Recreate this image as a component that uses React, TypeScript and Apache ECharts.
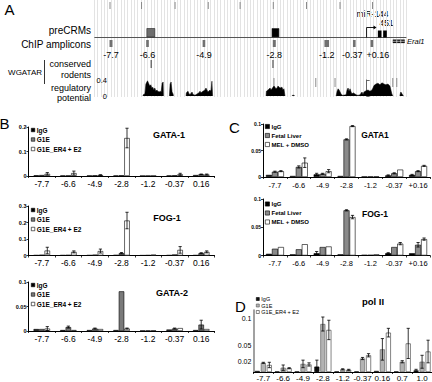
import React, { useEffect, useRef } from "react";
import * as echarts from "echarts";

const FONT = "'Liberation Sans', Arial, Helvetica, sans-serif";

// ---------- Panel A: genome track (kb relative to the miR-144/451 TSS) ----------
const rulerKb = [-7.73, -6.78, -5.77, -4.77, -3.81, -2.81, -1.81, -0.8, 0.18];
const preCrmStart = [-6.62, -2.85];
const preCrmEnd = [-6.38, -2.64];
const preCrmShade = ["#6e6e6e", "#000000"];
const ampliconLabels = ["-7.7", "-6.6", "-4.9", "-2.8", "-1.2", "-0.37", "+0.16"];
const ampliconKb = [-7.7, -6.6, -4.9, -2.78, -1.2, -0.37, 0.16];
const ampliconWidthKb = [0.09, 0.08, 0.08, 0.09, 0.14, 0.08, 0.08];
const ampliconLabelShift = [0, 0, 0, 0, 0, -2, 6];
const mirTssKb = 0.0;
const mirArrowEndKb = 0.3;
const mirExonStart = [0.34, 0.5];
const mirExonEnd = [0.45, 0.61];
const eral1Kb = [0.79, 1.15];
const wgatarConservedKb = [-6.49, -2.82];
const wgatarRodentKb = [-2.79, -1.53, -0.95, 0.79, 0.91];
const regPotentialSegments: number[][][] = [
  [[-6.74, 0], [-6.72, 0.04], [-6.68, 0.05], [-6.65, 0.3], [-6.6, 0.38], [-6.56, 0.3], [-6.53, 0.25], [-6.5, 0.28], [-6.47, 0.2], [-6.44, 0.22], [-6.41, 0.15], [-6.38, 0.2], [-6.35, 0.12], [-6.32, 0.15], [-6.29, 0.12], [-6.25, 0.1], [-6.22, 0.12], [-6.19, 0.1], [-6.16, 0.32], [-6.13, 0.35], [-6.12, 0]],
  [[-5.94, 0], [-5.92, 0.3], [-5.89, 0.35], [-5.86, 0.1], [-5.83, 0.05], [-5.82, 0]],
  [[-5.44, 0], [-5.43, 0.08], [-5.38, 0.12], [-5.35, 0.05], [-5.32, 0.04], [-5.29, 0.06], [-5.26, 0.1], [-5.23, 0.04], [-5.17, 0.02], [-5.11, 0.05], [-5.05, 0.08], [-5.02, 0.12], [-4.99, 0.08], [-4.93, 0.12], [-4.87, 0.15], [-4.84, 0.2], [-4.81, 0.15], [-4.78, 0.1], [-4.72, 0.15], [-4.69, 0.12], [-4.66, 0.37], [-4.64, 0]],
  [[-3.03, 0], [-3.02, 0.12], [-2.97, 0.15], [-2.91, 0.2], [-2.88, 0.15], [-2.82, 0.22], [-2.79, 0.25], [-2.73, 0.18], [-2.7, 0.2], [-2.67, 0.25], [-2.61, 0.2], [-2.55, 0.22], [-2.52, 0.15], [-2.49, 0.18], [-2.46, 0]],
  [[-2.25, 0], [-2.23, 0.02], [-2.19, 0.02], [-2.17, 0]],
  [[-0.92, 0], [-0.89, 0.12], [-0.86, 0.18], [-0.83, 0.15], [-0.8, 0.1], [-0.77, 0.05], [-0.74, 0.02], [-0.71, 0.02], [-0.62, 0.03], [-0.59, 0.15], [-0.56, 0.2], [-0.53, 0.12], [-0.5, 0.18], [-0.47, 0.1], [-0.44, 0.05], [-0.41, 0.08], [-0.35, 0.05], [-0.29, 0.02], [-0.23, 0.02], [-0.2, 0.03], [-0.14, 0.1], [-0.11, 0.04], [-0.08, 0.1], [-0.02, 0.13], [0.04, 0.15], [0.1, 0.12], [0.16, 0.15], [0.19, 0.2], [0.22, 0.26], [0.28, 0.3], [0.34, 0.32], [0.4, 0.28], [0.46, 0.33], [0.52, 0.3], [0.58, 0.28], [0.64, 0.3], [0.7, 0.25], [0.73, 0.15], [0.76, 0.05], [0.79, 0]],
  [[1.0, 0], [1.01, 0.05], [1.03, 0.1], [1.06, 0.06], [1.09, 0.02], [1.11, 0]],
];

// ---------- Panel B: G1E ChIP ----------
const bCats = ["-7.7", "-6.6", "-4.9", "-2.8", "-1.2", "-0.37", "0.16"];
const bNames = ["IgG", "G1E", "G1E_ER4 + E2"];
const bGata1IgG = [0.003, 0.002, 0.002, 0.002, 0.001, 0.002, 0.004];
const bGata1G1E = [0.004, 0.002, 0.003, 0.003, 0.001, 0.003, 0.007];
const bGata1ER4 = [0.009, 0.012, 0.004, 0.155, 0.001, 0.007, 0.006];
const bGata1IgGErr = [0, 0, 0, 0, 0, 0, 0];
const bGata1G1EErr = [0, 0, 0, 0, 0, 0, 0.001];
const bGata1ER4Err = [0.005, 0.008, 0.001, 0.04, 0, 0.004, 0.002];
const bFog1IgG = [0.002, 0.002, 0.002, 0.003, 0.001, 0.002, 0.002];
const bFog1G1E = [0.004, 0.003, 0.005, 0.014, 0.002, 0.006, 0.014];
const bFog1ER4 = [0.03, 0.022, 0.027, 0.212, 0.005, 0.034, 0.022];
const bFog1IgGErr = [0, 0, 0, 0, 0, 0, 0];
const bFog1G1EErr = [0, 0, 0, 0.004, 0, 0, 0.003];
const bFog1ER4Err = [0.02, 0.006, 0.012, 0.05, 0, 0.02, 0.006];
const bGata2IgG = [0.004, 0.002, 0.002, 0.002, 0.001, 0.003, 0.002];
const bGata2G1E = [0.004, 0.008, 0.005, 0.081, 0.001, 0.005, 0.013];
const bGata2ER4 = [0.005, 0.002, 0.004, 0.005, 0.001, 0.006, 0.004];
const bGata2IgGErr = [0, 0, 0, 0, 0, 0, 0];
const bGata2G1EErr = [0, 0.002, 0.001, 0, 0, 0.001, 0.009];
const bGata2ER4Err = [0.004, 0, 0, 0.001, 0, 0, 0];

// ---------- Panel C: primary cells ----------
const cCats = ["-7.7", "-6.6", "-4.9", "-2.8", "-1.2", "-0.37", "+0.16"];
const cNames = ["IgG", "Fetal Liver", "MEL + DMSO"];
const cGata1IgG = [0.004, 0.002, 0.005, 0.002, 0.001, 0.003, 0.004];
const cGata1FL = [0.01, 0.019, 0.006, 0.071, 0.001, 0.007, 0.011];
const cGata1MEL = [0.011, 0.027, 0.011, 0.096, 0.001, 0.014, 0.021];
const cGata1IgGErr = [0, 0, 0.002, 0, 0, 0.001, 0.001];
const cGata1FLErr = [0.001, 0.002, 0.001, 0.001, 0, 0.001, 0.001];
const cGata1MELErr = [0.001, 0.009, 0.003, 0.001, 0, 0, 0.001];
const cFog1IgG = [0.003, 0.002, 0.004, 0.002, 0.001, 0.004, 0.004];
const cFog1FL = [0.012, 0.011, 0.015, 0.08, 0.001, 0.015, 0.019];
const cFog1MEL = [0.015, 0.02, 0.016, 0.068, 0.002, 0.021, 0.029];
const cFog1IgGErr = [0, 0, 0.003, 0, 0, 0.001, 0];
const cFog1FLErr = [0, 0, 0, 0.001, 0, 0, 0.004];
const cFog1MELErr = [0, 0, 0, 0.003, 0, 0.002, 0.002];

// ---------- Panel D: pol II ----------
const dCats = ["-7.7", "-6.6", "-4.9", "-2.8", "-1.2", "-0.37", "0.16", "0.7", "1.0"];
const dIgG = [0.002, 0.001, 0.001, 0.01, 0.001, 0.001, 0.002, 0.001, 0.003];
const dG1E = [0.017, 0.008, 0.015, 0.089, 0.005, 0.025, 0.042, 0.019, 0.019];
const dER4 = [0.013, 0.007, 0.014, 0.078, 0.004, 0.031, 0.073, 0.053, 0.038];
const dIgGErr = [0, 0, 0, 0.012, 0, 0, 0, 0, 0.002];
const dG1EErr = [0.001, 0.005, 0.007, 0.013, 0.001, 0.002, 0.02, 0.002, 0.012];
const dER4Err = [0.005, 0.001, 0.003, 0.018, 0.001, 0.003, 0.008, 0.028, 0.021];
const dTickValues = [0.02, 0.05, 0.1];

function errorBars(gi: number, values: number[][], errors: number[][], barW: number, gapPx: number) {
  const data: number[][] = [];
  values.forEach((vals, k) =>
    vals.forEach((v, i) => {
      const e = errors[k][i];
      if (e > 0) data.push([i, v, e, k]);
    })
  );
  const n = values.length;
  return {
    type: "custom",
    xAxisIndex: gi,
    yAxisIndex: gi,
    data,
    encode: { x: 0, y: 1 },
    silent: true,
    z: 5,
    renderItem: (_params: any, api: any) => {
      const i = api.value(0);
      const v = api.value(1);
      const e = api.value(2);
      const k = api.value(3);
      const off = (k - (n - 1) / 2) * (barW + gapPx);
      const pTop = api.coord([i, v + e]);
      const pBot = api.coord([i, Math.max(0, v - e)]);
      const x = pTop[0] + off;
      const st = { stroke: "#000", lineWidth: 0.8 };
      return {
        type: "group",
        children: [
          { type: "line", shape: { x1: x, y1: pTop[1], x2: x, y2: pBot[1] }, style: st },
          { type: "line", shape: { x1: x - 1.6, y1: pTop[1], x2: x + 1.6, y2: pTop[1] }, style: st },
          { type: "line", shape: { x1: x - 1.6, y1: pBot[1], x2: x + 1.6, y2: pBot[1] }, style: st },
        ],
      };
    },
  };
}

function buildOption() {
  const grids: any[] = [];
  const xAxes: any[] = [];
  const yAxes: any[] = [];
  const series: any[] = [];
  const legends: any[] = [];
  const graphics: any[] = [];

  const txt = (text: string, x: number, y: number, o: any = {}) =>
    graphics.push({
      type: "text",
      x,
      y,
      silent: true,
      style: {
        text,
        fill: "#000",
        fontFamily: FONT,
        fontSize: o.size || 9,
        fontWeight: o.bold ? "bold" : "normal",
        fontStyle: o.italic ? "italic" : "normal",
        align: o.align || "center",
        verticalAlign: "middle",
      },
    });

  // ----- Panel A main grid (0)
  grids.push({ left: 94.4, top: 0, width: 312, height: 97, outerBoundsMode: "none" });
  xAxes.push({
    gridIndex: 0, type: "value", min: -8.2, max: 1.2, interval: 0.1,
    axisLine: { show: false }, axisTick: { show: false }, axisLabel: { show: false },
    splitLine: { show: true, lineStyle: { color: "#e3e3e3", width: 1 } },
  });
  yAxes.push({ gridIndex: 0, type: "value", min: 0, max: 1, show: false, splitLine: { show: false } });

  const trackY = (p: any) => p.coordSys.y;
  series.push({
    type: "custom", xAxisIndex: 0, yAxisIndex: 0, silent: true, encode: { x: 0, y: 1 },
    data: rulerKb.map((k) => [k, 0]),
    renderItem: (p: any, api: any) => {
      const x = api.coord([api.value(0), 0])[0];
      const y0 = trackY(p);
      return { type: "line", shape: { x1: x, y1: y0 + 2, x2: x, y2: y0 + 9 }, style: { stroke: "#8a8a8a", lineWidth: 1 } };
    },
  });
  // baseline
  series.push({
    type: "custom", xAxisIndex: 0, yAxisIndex: 0, silent: true, encode: { x: 0, y: 1 },
    data: [[0, 0]],
    renderItem: (p: any) => {
      const cs = p.coordSys;
      return { type: "line", shape: { x1: cs.x, y1: cs.y + 37.5, x2: cs.x + cs.width, y2: cs.y + 37.5 }, style: { stroke: "#555", lineWidth: 1 } };
    },
  });
  // preCRMs
  series.push({
    type: "custom", xAxisIndex: 0, yAxisIndex: 0, silent: true, encode: { x: 0, y: 1 },
    data: preCrmStart.map((s, i) => [s, 0, preCrmEnd[i], i]),
    renderItem: (p: any, api: any) => {
      const x1 = api.coord([api.value(0), 0])[0];
      const x2 = api.coord([api.value(2), 0])[0];
      const y0 = trackY(p);
      return { type: "rect", shape: { x: x1, y: y0 + 28.5, width: x2 - x1, height: 8.5 }, style: { fill: preCrmShade[api.value(3)], stroke: "#222", lineWidth: 0.6 } };
    },
  });
  // ChIP amplicons with labels
  series.push({
    type: "custom", xAxisIndex: 0, yAxisIndex: 0, silent: true, encode: { x: 0, y: 1 },
    data: ampliconKb.map((k, i) => [k, 0, ampliconWidthKb[i], i]),
    renderItem: (p: any, api: any) => {
      const k = api.value(0);
      const w = api.value(2);
      const idx = api.value(3);
      const x1 = api.coord([k - w / 2, 0])[0];
      const x2 = api.coord([k + w / 2, 0])[0];
      const y0 = trackY(p);
      return {
        type: "group",
        children: [
          { type: "rect", shape: { x: x1, y: y0 + 40, width: x2 - x1, height: 7 }, style: { fill: "#707070" } },
          { type: "text", style: { text: ampliconLabels[idx], x: (x1 + x2) / 2 + ampliconLabelShift[idx], y: y0 + 54.5, align: "center", verticalAlign: "middle", fontSize: 9, fontFamily: FONT, fill: "#000" } },
        ],
      };
    },
  });
  // miR-144/451 promoter arrow
  series.push({
    type: "custom", xAxisIndex: 0, yAxisIndex: 0, silent: true, encode: { x: 0, y: 1 },
    data: [[mirTssKb, 0, mirArrowEndKb]],
    renderItem: (p: any, api: any) => {
      const x1 = api.coord([api.value(0), 0])[0];
      const x2 = api.coord([api.value(2), 0])[0];
      const y0 = trackY(p);
      return {
        type: "group",
        children: [
          { type: "polyline", shape: { points: [[x1, y0 + 37.5], [x1, y0 + 27.5], [x2 - 2, y0 + 27.5]] }, style: { stroke: "#000", lineWidth: 0.9, fill: "none" } },
          { type: "polygon", shape: { points: [[x2 - 3, y0 + 25.5], [x2, y0 + 27.5], [x2 - 3, y0 + 29.5]] }, style: { fill: "#000" } },
        ],
      };
    },
  });
  // miR exons
  series.push({
    type: "custom", xAxisIndex: 0, yAxisIndex: 0, silent: true, encode: { x: 0, y: 1 },
    data: mirExonStart.map((s, i) => [s, 0, mirExonEnd[i]]),
    renderItem: (p: any, api: any) => {
      const x1 = api.coord([api.value(0), 0])[0];
      const x2 = api.coord([api.value(2), 0])[0];
      const y0 = trackY(p);
      return { type: "rect", shape: { x: x1, y: y0 + 30.5, width: x2 - x1, height: 7 }, style: { fill: "#000" } };
    },
  });
  // Eral1 gene
  series.push({
    type: "custom", xAxisIndex: 0, yAxisIndex: 0, silent: true, encode: { x: 0, y: 1 },
    data: [[eral1Kb[0], 0, eral1Kb[1]]],
    renderItem: (p: any, api: any) => {
      const x1 = api.coord([api.value(0), 0])[0];
      const x2 = api.coord([api.value(2), 0])[0];
      const y0 = trackY(p);
      const w = x2 - x1;
      return {
        type: "group",
        children: [
          { type: "rect", shape: { x: x1, y: y0 + 39.5, width: w, height: 3.6 }, style: { fill: "#111" } },
          { type: "line", shape: { x1, y1: y0 + 41.3, x2, y2: y0 + 41.3 }, style: { stroke: "#fff", lineWidth: 0.6 } },
          { type: "line", shape: { x1: x1 + w / 3, y1: y0 + 39.5, x2: x1 + w / 3, y2: y0 + 43.1 }, style: { stroke: "#fff", lineWidth: 0.6 } },
          { type: "line", shape: { x1: x1 + (2 * w) / 3, y1: y0 + 39.5, x2: x1 + (2 * w) / 3, y2: y0 + 43.1 }, style: { stroke: "#fff", lineWidth: 0.6 } },
        ],
      };
    },
  });
  // WGATAR
  series.push({
    type: "custom", xAxisIndex: 0, yAxisIndex: 0, silent: true, encode: { x: 0, y: 1 },
    data: wgatarConservedKb.map((k) => [k, 0]),
    renderItem: (p: any, api: any) => {
      const x = api.coord([api.value(0), 0])[0];
      const y0 = trackY(p);
      return { type: "line", shape: { x1: x, y1: y0 + 60, x2: x, y2: y0 + 68 }, style: { stroke: "#333", lineWidth: 1 } };
    },
  });
  series.push({
    type: "custom", xAxisIndex: 0, yAxisIndex: 0, silent: true, encode: { x: 0, y: 1 },
    data: wgatarRodentKb.map((k) => [k, 0]),
    renderItem: (p: any, api: any) => {
      const x = api.coord([api.value(0), 0])[0];
      const y0 = trackY(p);
      return { type: "line", shape: { x1: x, y1: y0 + 78, x2: x, y2: y0 + 87 }, style: { stroke: "#8a8a8a", lineWidth: 1 } };
    },
  });

  // ----- Regulatory potential grid (1)
  grids.push({ left: 111, top: 80, width: 295.5, height: 16, outerBoundsMode: "none" });
  xAxes.push({ gridIndex: 1, type: "value", min: -7.7, max: 1.2, show: false, splitLine: { show: false } });
  yAxes.push({
    gridIndex: 1, type: "value", min: 0, max: 0.4, interval: 0.4,
    axisLine: { show: true, lineStyle: { color: "#444", width: 0.8 } },
    axisTick: { show: true, inside: true, length: 3, lineStyle: { color: "#444", width: 0.8 } },
    axisLabel: { fontSize: 7.5, color: "#000", margin: 4, fontFamily: FONT },
    splitLine: { show: false },
  });
  regPotentialSegments.forEach((seg) =>
    series.push({
      type: "line", xAxisIndex: 1, yAxisIndex: 1, data: seg, symbol: "none", silent: true,
      lineStyle: { color: "#000", width: 0.5 }, areaStyle: { color: "#000", opacity: 1 },
    })
  );

  // ----- bar panels
  const addBarPanel = (cfg: any) => {
    const gi = grids.length;
    grids.push({ left: cfg.left, top: cfg.top, width: cfg.width, height: cfg.height, outerBoundsMode: "none" });
    xAxes.push({
      gridIndex: gi, type: "category", data: cfg.cats,
      axisLine: { show: true, lineStyle: { color: "#000", width: 1 } },
      axisTick: { show: true, length: 2, lineStyle: { color: "#000", width: 0.8 } },
      axisLabel: { interval: 0, fontSize: cfg.xFont, color: "#000", margin: cfg.xMargin, fontFamily: FONT },
      splitLine: { show: false },
    });
    const yLabel: any = { fontSize: cfg.yFont, fontWeight: cfg.yBold ? "bold" : "normal", color: "#000", margin: 2, fontFamily: FONT };
    const yAxis: any = {
      gridIndex: gi, type: "value", min: 0, max: cfg.max,
      axisLine: { show: true, lineStyle: { color: cfg.yColor || "#000", width: cfg.yWidth || 1 } },
      axisTick: { show: cfg.yTicks, length: 2, lineStyle: { color: "#000", width: 0.8 } },
      axisLabel: yLabel,
      splitLine: { show: false },
    };
    if (cfg.interval) yAxis.interval = cfg.interval;
    if (cfg.custom) {
      yLabel.customValues = cfg.custom;
      yAxis.axisTick.customValues = cfg.custom;
    }
    yAxes.push(yAxis);
    cfg.series.forEach((s: any) =>
      series.push({
        type: "bar", name: s.name, xAxisIndex: gi, yAxisIndex: gi, data: s.data, silent: true,
        barWidth: cfg.barW, barGap: `${(cfg.gap / cfg.barW) * 100}%`,
        itemStyle: { color: s.color, borderColor: s.border, borderWidth: 0.6 },
      })
    );
    series.push(errorBars(gi, cfg.series.map((s: any) => s.data), cfg.series.map((s: any) => s.err), cfg.barW, cfg.gap));
    legends.push({
      show: true, orient: "vertical", left: cfg.legLeft, top: cfg.legTop, padding: 0,
      itemWidth: cfg.legSize, itemHeight: cfg.legSize, itemGap: cfg.legGap, icon: "rect", selectedMode: false,
      data: cfg.series.map((s: any) => ({ name: s.name, itemStyle: { color: s.color, borderColor: s.border, borderWidth: 0.6 } })),
      textStyle: { fontSize: cfg.legFont, fontWeight: cfg.legBold ? "bold" : "normal", fontFamily: FONT, color: "#000", lineHeight: cfg.legFont, padding: [0, 0, 0, -3] },
    });
    txt(cfg.title, cfg.titleX, cfg.titleY, { size: cfg.titleSize, bold: true });
  };

  const bStyle = [
    { color: "#000", border: "#000" },
    { color: "#7a7a7a", border: "#000" },
    { color: "#fff", border: "#000" },
  ];
  const bCommon = {
    cats: bCats, left: 28.5, width: 186, barW: 5.5, gap: 0, xFont: 8.5, xMargin: 3, yFont: 5.5, yBold: true, yTicks: true,
    legLeft: 31, legSize: 3.5, legGap: 2.5, legFont: 6.5, legBold: true, titleSize: 9,
  };
  const mk = (names: string[], style: any[], data: number[][], err: number[][]) =>
    names.map((n, k) => ({ name: n, color: style[k].color, border: style[k].border, data: data[k], err: err[k] }));

  addBarPanel({ ...bCommon, top: 127, height: 49, max: 0.2, interval: 0.1, legTop: 126.5, title: "GATA-1", titleX: 169, titleY: 135,
    series: mk(bNames, bStyle, [bGata1IgG, bGata1G1E, bGata1ER4], [bGata1IgGErr, bGata1G1EErr, bGata1ER4Err]) });
  addBarPanel({ ...bCommon, top: 206, height: 49.5, max: 0.3, interval: 0.1, legTop: 206.5, title: "FOG-1", titleX: 167, titleY: 218,
    series: mk(bNames, bStyle, [bFog1IgG, bFog1G1E, bFog1ER4], [bFog1IgGErr, bFog1G1EErr, bFog1ER4Err]) });
  addBarPanel({ ...bCommon, top: 282, height: 49, max: 0.1, interval: 0.05, legTop: 281.5, title: "GATA-2", titleX: 172, titleY: 293,
    series: mk(bNames, bStyle, [bGata2IgG, bGata2G1E, bGata2ER4], [bGata2IgGErr, bGata2G1EErr, bGata2ER4Err]) });

  const cStyle = [
    { color: "#000", border: "#000" },
    { color: "#8a8a8a", border: "#000" },
    { color: "#fff", border: "#000" },
  ];
  const cCommon = {
    cats: cCats, left: 263, width: 167, barW: 6, gap: 0, xFont: 7.5, xMargin: 4, yFont: 5, yBold: true, yTicks: true,
    legLeft: 265, legSize: 4.2, legGap: 3, legFont: 6, legBold: true, titleSize: 8.5, max: 0.1, interval: 0.05,
  };
  addBarPanel({ ...cCommon, top: 124, height: 53, legTop: 123.5, title: "GATA1", titleX: 375, titleY: 135,
    series: mk(cNames, cStyle, [cGata1IgG, cGata1FL, cGata1MEL], [cGata1IgGErr, cGata1FLErr, cGata1MELErr]) });
  addBarPanel({ ...cCommon, top: 199, height: 56.5, legTop: 201, title: "FOG-1", titleX: 375, titleY: 214,
    series: mk(cNames, cStyle, [cFog1IgG, cFog1FL, cFog1MEL], [cFog1IgGErr, cFog1FLErr, cFog1MELErr]) });

  const dStyle = [
    { color: "#111", border: "#000" },
    { color: "#b3b3b3", border: "#555" },
    { color: "#fff", border: "#333" },
  ];
  addBarPanel({
    cats: dCats, left: 253.4, width: 178.6, top: 310, height: 62, max: 0.115, custom: dTickValues,
    barW: 5, gap: 1, xFont: 8, xMargin: 2, yFont: 7, yBold: false, yTicks: false, yColor: "#8a8a8a", yWidth: 1.6,
    legLeft: 256, legTop: 296, legSize: 3, legGap: 0.5, legFont: 5.5, legBold: false, titleSize: 9.5,
    title: "pol II", titleX: 373, titleY: 301,
    series: mk(bNames, dStyle, [dIgG, dG1E, dER4], [dIgGErr, dG1EErr, dER4Err]),
  });

  // ----- Panel A texts
  txt("preCRMs", 91, 30, { align: "right", size: 10 });
  txt("ChIP amplicons", 91, 44, { align: "right", size: 10 });
  txt("conserved", 91, 64, { align: "right", size: 9 });
  txt("rodents", 91, 75, { align: "right", size: 9 });
  txt("WGATAR", 42, 72, { align: "right", size: 8 });
  graphics.push({ type: "line", silent: true, shape: { x1: 44.5, y1: 60, x2: 44.5, y2: 84 }, style: { stroke: "#000", lineWidth: 0.8 } });
  txt("regulatory", 91, 88, { align: "right", size: 9 });
  txt("potential", 91, 97.5, { align: "right", size: 9 });
  txt("miR-144", 372.5, 13.5, { size: 8.5 });
  txt("451", 386.5, 22.5, { size: 8.5 });
  txt("Eral1", 407, 41.5, { align: "left", size: 7.5, italic: true });

  // panel letters
  txt("A", 9.5, 9, { size: 15 });
  txt("B", 4.5, 123.5, { size: 15 });
  txt("C", 234.5, 127.5, { size: 15 });
  txt("D", 240.5, 306, { size: 15 });

  return {
    animation: false,
    backgroundColor: "#fff",
    textStyle: { fontFamily: FONT },
    grid: grids,
    xAxis: xAxes,
    yAxis: yAxes,
    legend: legends,
    series,
    graphic: graphics,
  };
}

export default function App() {
  const ref = useRef<HTMLDivElement>(null);
  useEffect(() => {
    const chart = echarts.init(ref.current!, undefined, { renderer: "svg", width: 432, height: 382 });
    chart.setOption(buildOption() as any);
    return () => chart.dispose();
  }, []);
  return (
    <div
      ref={ref}
      style={{ position: "absolute", left: 0, top: 0, width: 432, height: 382, background: "#fff" }}
    />
  );
}
